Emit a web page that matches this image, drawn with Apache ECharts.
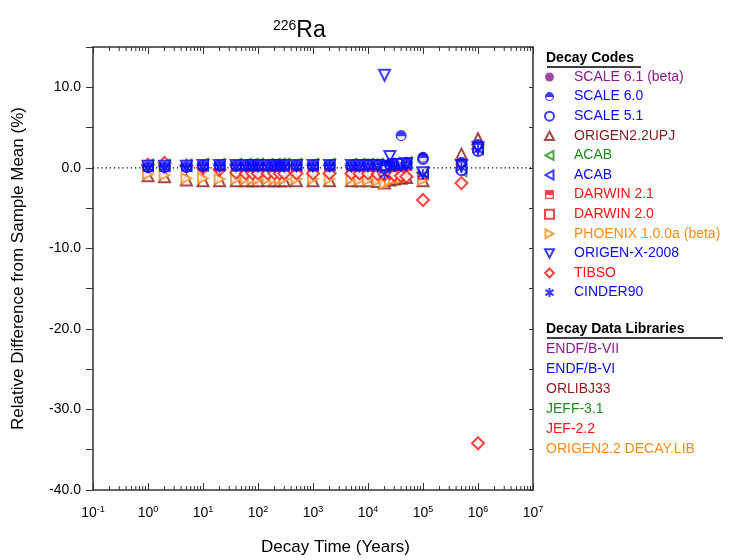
<!DOCTYPE html>
<html>
<head>
<meta charset="utf-8">
<script src="https://cdn.jsdelivr.net/npm/echarts@6/dist/echarts.min.js"></script>
<style>html,body{margin:0;padding:0;background:#fff;}#c{width:739px;height:560px;}</style>
</head>
<body>
<div id="c"></div>
<script>
// ---- data ----
const times = [1, 2, 5, 10, 20, 40, 60, 80, 100, 150, 200, 250, 300, 500, 1000, 2000, 5000, 7000, 10000, 15000, 20000, 25000, 30000, 40000, 50000, 100000, 500000, 1000000];
const scale61 = [0.1, 0.1, 0.1, 0.3, 0.3, 0.3, 0.3, 0.3, 0.3, 0.3, 0.3, 0.3, 0.3, 0.3, 0.3, 0.3, 0.3, 0.3, 0.4, 0.4, 0.3, 0.4, 0.5, 0.5, 0.6, 1.3, 0.2, 2.6];
const scale60 = [0.1, 0.1, 0.1, 0.3, 0.3, 0.3, 0.3, 0.3, 0.3, 0.3, 0.3, 0.3, 0.3, 0.3, 0.3, 0.3, 0.3, 0.3, 0.4, 0.4, 0.3, 0.4, 0.5, 4.0, 0.6, 1.3, 0.7, 2.9];
const scale51 = [0.1, 0.1, 0.1, 0.3, 0.3, 0.3, 0.3, 0.3, 0.3, 0.3, 0.3, 0.3, 0.3, 0.3, 0.3, 0.3, 0.3, 0.3, 0.4, 0.4, 0.3, 0.4, 0.5, 0.5, 0.6, 1.1, -0.3, 2.1];
const origen22 = [-1.0, -1.1, -1.5, -1.6, -1.6, -1.6, -1.6, -1.6, -1.6, -1.6, -1.6, -1.6, -1.6, -1.6, -1.6, -1.6, -1.6, -1.6, -1.6, -1.7, -1.9, -1.5, -1.4, -1.3, -1.2, -1.6, 1.7, 3.6];
const acabGreen = [0.4, 0.4, 0.4, 0.5, 0.5, 0.5, 0.5, 0.5, 0.5, 0.5, 0.5, 0.5, 0.5, 0.5, 0.5, 0.5, 0.5, 0.5, 0.5, 0.5, 0.4, 0.5, 0.6, 0.6, 0.7, -0.6, -0.4, 2.3];
const acabBlue = [0.2, 0.2, 0.2, 0.3, 0.3, 0.3, 0.3, 0.3, 0.3, 0.3, 0.3, 0.3, 0.3, 0.3, 0.3, 0.3, 0.3, 0.3, 0.3, 0.3, 0.2, 0.3, 0.4, 0.4, 0.5, -0.6, 0.0, 2.4];
const darwin21 = [0.2, 0.2, 0.2, 0.2, 0.2, 0.2, 0.2, 0.2, 0.2, 0.2, 0.2, 0.2, 0.2, 0.2, 0.2, 0.2, 0.2, 0.2, 0.2, 0.2, 0.2, 0.2, 0.3, 0.3, 0.3, -0.8, 0.0, 2.5];
const darwin20 = [0.2, 0.2, 0.2, 0.2, 0.2, 0.2, 0.2, 0.2, 0.2, 0.2, 0.2, 0.2, 0.2, 0.2, 0.2, 0.2, 0.2, 0.2, 0.2, 0.2, 0.2, 0.2, 0.3, 0.3, 0.3, -0.8, 0.0, 2.5];
const phoenix = [-0.8, -0.9, -1.3, -1.3, -1.4, -1.4, -1.4, -1.4, -1.4, -1.4, -1.4, -1.4, -1.4, -1.4, -1.4, -1.4, -1.4, -1.5, -1.5, -1.6, -2.0, -1.6, -1.4, -1.3, -1.2, -1.5, 0.5, 2.6];
const origenX = [0.2, 0.2, 0.2, 0.3, 0.3, 0.3, 0.3, 0.3, 0.3, 0.3, 0.3, 0.3, 0.3, 0.3, 0.3, 0.3, 0.3, 0.3, 0.3, 0.3, 11.5, 1.4, 0.4, 0.4, 0.5, -0.6, 0.3, 2.5];
const tibso = [0.4, 0.6, 0.3, 0.0, -0.2, -0.6, -0.7, -0.7, -0.7, -0.7, -0.7, -0.7, -0.7, -0.7, -0.7, -0.7, -0.7, -0.7, -0.7, -0.8, -0.8, -0.7, -0.9, -1.0, -1.1, -4.0, -1.9, -34.2];
const cinder90 = [0.0, 0.0, 0.0, 0.1, 0.1, 0.1, 0.1, 0.1, 0.1, 0.1, 0.1, 0.1, 0.1, 0.1, 0.1, 0.1, 0.1, 0.1, 0.1, 0.0, -0.8, 0.0, 0.1, 0.1, 0.2, -0.8, 0.0, 2.2];
const zeroLineX = [0.1, 1e7];
const zeroLineY = [0, 0];
const xTickExponents = [-1, 0, 1, 2, 3, 4, 5, 6, 7];
const yTickLabels = [-40, -30, -20, -10, 0, 10];
const libraries = ['ENDF/B-VII', 'ENDF/B-VI', 'ORLIBJ33', 'JEFF-3.1', 'JEF-2.2', 'ORIGEN2.2 DECAY.LIB'];

// ---- styling ----
const C = {purple:'#8B1A8B', blue:'#0A0AFF', dred:'#8B1A1A', green:'#1E8C1E', red:'#FF1414', orange:'#FF8C1A'};
const libColors = [C.purple, C.blue, C.dred, C.green, C.red, C.orange];
const FONT = 'Liberation Sans, Arial, sans-serif';

const P = {
  halfCircle: 'path://M0,10 A10,10 0 1,1 20,10 A10,10 0 1,1 0,10 Z M3,11 A7,7 0 0,0 17,11 Z',
  halfRect: 'path://M0,0 L20,0 L20,20 L0,20 Z M3,11 L3,17 L17,17 L17,11 Z',
  triUp: 'path://M10,1 L19,18 L1,18 Z',
  triDown: 'path://M1,2 L19,2 L10,19 Z',
  triLeft: 'path://M2,10 L18,1 L18,19 Z',
  triRight: 'path://M18,10 L2,1 L2,19 Z',
  star: 'path://M10,0 L10,20 M1,4 L19,16 M19,4 L1,16'
};

function pts(arr){ return times.map((t,i)=> arr[i]==null ? null : [t, arr[i]]).filter(Boolean); }
function openS(name, data, symbol, color, size, z){
  return {name, type:'scatter', data:pts(data), symbol, symbolSize:size, z,
    itemStyle:{color:'#fff', borderColor:color, borderWidth:2}};
}

const minorTicks = [];
for (let e = -1; e < 7; e++) for (let k = 2; k <= 9; k++) minorTicks.push(k * Math.pow(10, e));

const series = [
  {type:'custom', silent:true, z:1, data:minorTicks.map(v=>[v,-40]), encode:{x:0,y:1},
   renderItem:(p, api)=>{
     const x = api.value(0);
     const b = api.coord([x,-40]), t = api.coord([x,15]);
     return {type:'group', children:[
       {type:'line', shape:{x1:b[0],y1:b[1],x2:b[0],y2:b[1]-4}, style:{stroke:'#333',lineWidth:1}},
       {type:'line', shape:{x1:t[0],y1:t[1],x2:t[0],y2:t[1]+4}, style:{stroke:'#333',lineWidth:1}}
     ]};
   }},
  {type:'line', silent:true, z:1, symbol:'none', data:zeroLineX.map((x,i)=>[x, zeroLineY[i]]),
   lineStyle:{color:'#000', width:1.2, type:[1.2,3]}},
  {name:'SCALE 6.1 (beta)', type:'scatter', data:pts(scale61), symbol:'circle', symbolSize:10, z:2,
   itemStyle:{color:C.purple}},
  openS('ORIGEN2.2UPJ', origen22, P.triUp, C.dred, 11, 3),
  openS('PHOENIX 1.0.0a (beta)', phoenix, P.triRight, C.orange, 10, 4),
  openS('TIBSO', tibso, 'diamond', C.red, 12, 5),
  {name:'DARWIN 2.1', type:'scatter', data:pts(darwin21), symbol:P.halfRect, symbolSize:9, z:6, itemStyle:{color:C.red}},
  openS('DARWIN 2.0', darwin20, 'rect', C.red, 9, 7),
  openS('ACAB', acabGreen, P.triLeft, C.green, 10, 8),
  openS('ACAB ', acabBlue, P.triLeft, C.blue, 10, 9),
  openS('SCALE 5.1', scale51, 'circle', C.blue, 10, 10),
  openS('ORIGEN-X-2008', origenX, P.triDown, C.blue, 11, 11),
  {name:'CINDER90', type:'scatter', data:pts(cinder90), symbol:P.star, symbolSize:10, z:12,
   itemStyle:{color:C.blue, borderColor:C.blue, borderWidth:1.8}},
  {name:'SCALE 6.0', type:'scatter', data:pts(scale60), symbol:P.halfCircle, symbolSize:11, z:13,
   itemStyle:{color:C.blue}}
];

const legendOrder = [
  ['SCALE 6.1 (beta)', C.purple], ['SCALE 6.0', C.blue], ['SCALE 5.1', C.blue], ['ORIGEN2.2UPJ', C.dred],
  ['ACAB', C.green], ['ACAB ', C.blue], ['DARWIN 2.1', C.red], ['DARWIN 2.0', C.red],
  ['PHOENIX 1.0.0a (beta)', C.orange], ['ORIGEN-X-2008', C.blue], ['TIBSO', C.red], ['CINDER90', C.blue]
];

const graphics = [
  {type:'text', left:546, top:51, style:{text:'Decay Codes', font:'bold 14px '+FONT, fill:'#000'}},
  {type:'line', shape:{x1:547, y1:67, x2:641, y2:67}, style:{stroke:'#000', lineWidth:1.3}},
  {type:'text', left:546, top:322, style:{text:'Decay Data Libraries', font:'bold 14px '+FONT, fill:'#000'}},
  {type:'line', shape:{x1:547, y1:338, x2:723, y2:338}, style:{stroke:'#000', lineWidth:1.3}},
  {type:'text', left:261, top:539, style:{text:'Decay Time (Years)', font:'17px '+FONT, fill:'#000'}}
];
libraries.forEach((t,i)=>graphics.push({type:'text', left:546, top:342 + i*20, style:{text:t, font:'14px '+FONT, fill:libColors[i]}}));

const axisLineStyle = {onZero:false, lineStyle:{color:'#333', width:1.5}};

const option = {
  backgroundColor:'#fff',
  animation:false,
  textStyle:{fontFamily:FONT},
  title:{text:'{sup|226}{main|Ra}', left:268, top:14,
    textStyle:{fontWeight:'normal', rich:{sup:{fontSize:14, fontWeight:'normal', fontFamily:FONT, color:'#000', verticalAlign:'top', padding:[0,0,10,0]}, main:{fontSize:23, fontWeight:'normal', fontFamily:FONT, color:'#000'}}}},
  grid:{left:93, right:206, top:47, bottom:70},
  legend:{orient:'vertical', left:544, top:69, padding:0, itemWidth:9, itemHeight:9, itemGap:3.6,
    selectedMode:false,
    textStyle:{fontSize:14, fontFamily:FONT, lineHeight:16, padding:[0,0,0,15]},
    data:legendOrder.map(([n,c])=>({name:n, textStyle:{color:c}}))},
  xAxis:[
    {type:'log', logBase:10, min:0.1, max:1e7, position:'bottom',
     axisLine:axisLineStyle,
     axisTick:{inside:true, length:7, lineStyle:{color:'#333'}},
     splitLine:{show:false}, minorTick:{show:false},
     axisLabel:{margin:15, formatter:(v)=>{const e=Math.round(Math.log10(v)); return xTickExponents.includes(e)?'{b|10}{e|'+e+'}':'';},
       rich:{b:{fontSize:14, fontFamily:FONT, color:'#000'}, e:{fontSize:9, fontFamily:FONT, color:'#000', verticalAlign:'top', padding:[0,0,8,0]}}}},
    {type:'log', logBase:10, min:0.1, max:1e7, position:'top',
     axisLine:axisLineStyle,
     axisTick:{inside:true, length:7, lineStyle:{color:'#333'}},
     axisLabel:{show:false}, splitLine:{show:false}}
  ],
  yAxis:[
    {type:'value', min:-40, max:15, interval:5, position:'left',
     axisLine:Object.assign({show:true}, axisLineStyle),
     axisTick:{show:true, inside:false, length:7, lineStyle:{color:'#333'}},
     splitLine:{show:false},
     axisLabel:{margin:12, fontSize:14, fontFamily:FONT, color:'#000',
       formatter:(v)=> yTickLabels.includes(v) ? v.toFixed(1) : ''},
     name:'Relative Difference from Sample Mean (%)', nameLocation:'middle', nameGap:66,
     nameTextStyle:{fontSize:17, fontFamily:FONT, color:'#000'}},
    {type:'value', min:-40, max:15, interval:5, position:'right',
     axisLine:Object.assign({show:true}, axisLineStyle),
     axisTick:{show:true, inside:true, length:4, lineStyle:{color:'#333'}},
     axisLabel:{show:false}, splitLine:{show:false}}
  ],
  graphic:graphics,
  series
};

echarts.init(document.getElementById('c'), null, {renderer:'canvas'}).setOption(option);
</script>
</body>
</html>
